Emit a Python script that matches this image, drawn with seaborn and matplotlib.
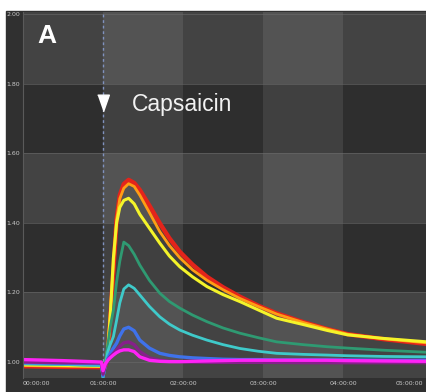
import numpy as np
import pandas as pd
import seaborn as sns
import matplotlib.pyplot as plt
from matplotlib.patches import Rectangle

# time in minutes, shared by all traces
time_min = [0, 0.5, 0.98, 1.0, 1.03, 1.06, 1.09, 1.13, 1.17, 1.21, 1.26, 1.32, 1.39, 1.46,
            1.58, 1.71, 1.83, 1.96, 2.12, 2.30, 2.5, 2.71, 2.94, 3.17, 3.5, 3.8, 4.06, 4.5, 5.05]

red = [0.988, 0.986, 0.985, 0.975, 0.99, 1.02, 1.12, 1.265, 1.41, 1.48, 1.512, 1.524, 1.515,
       1.495, 1.45, 1.399, 1.356, 1.317, 1.28, 1.245, 1.215, 1.188, 1.162, 1.14, 1.115,
       1.095, 1.08, 1.066, 1.052]
orange = [0.99, 0.988, 0.987, 0.97, 0.99, 1.03, 1.14, 1.28, 1.41, 1.47, 1.50, 1.513, 1.505,
          1.48, 1.43, 1.375, 1.335, 1.30, 1.265, 1.235, 1.208, 1.183, 1.16, 1.138, 1.114,
          1.095, 1.08, 1.067, 1.055]
yellow = [0.992, 0.99, 0.988, 0.97, 0.99, 1.04, 1.13, 1.30, 1.40, 1.445, 1.465, 1.471, 1.455,
          1.425, 1.385, 1.342, 1.305, 1.274, 1.245, 1.217, 1.194, 1.174, 1.15, 1.126, 1.108,
          1.091, 1.078, 1.068, 1.058]
green = [0.995, 0.993, 0.99, 0.955, 1.0, 1.05, 1.10, 1.15, 1.23, 1.29, 1.345, 1.335, 1.31,
         1.279, 1.235, 1.198, 1.174, 1.155, 1.135, 1.116, 1.098, 1.083, 1.07, 1.058, 1.05,
         1.044, 1.04, 1.034, 1.028]
cyan = [0.995, 0.993, 0.99, 0.955, 0.99, 1.03, 1.05, 1.073, 1.12, 1.17, 1.21, 1.222, 1.212,
        1.193, 1.16, 1.13, 1.109, 1.092, 1.077, 1.063, 1.05, 1.039, 1.031, 1.025, 1.022,
        1.02, 1.018, 1.016, 1.015]
blue = [0.998, 0.996, 0.995, 0.96, 0.99, 1.01, 1.025, 1.04, 1.054, 1.075, 1.095, 1.10, 1.09,
        1.063, 1.04, 1.025, 1.019, 1.015, 1.012, 1.01, 1.008, 1.007, 1.007, 1.006, 1.006,
        1.006, 1.006, 1.005, 1.005]
purple = [1.0, 0.998, 0.997, 0.965, 0.99, 1.005, 1.015, 1.025, 1.035, 1.045, 1.055, 1.058,
          1.05, 1.03, 1.012, 1.005, 1.002, 1.001, 1.0, 0.999, 0.999, 0.999, 0.999, 0.999,
          0.998, 0.998, 0.998, 0.998, 0.998]
magenta = [1.007, 1.004, 1.0, 0.975, 0.995, 1.005, 1.012, 1.02, 1.027, 1.032, 1.035, 1.035,
           1.03, 1.015, 1.005, 1.002, 1.001, 1.001, 1.002, 1.003, 1.004, 1.005, 1.005, 1.005,
           1.005, 1.005, 1.004, 1.003, 1.002]

series_names = ['red', 'orange', 'yellow', 'green', 'cyan', 'blue', 'purple', 'magenta']
series_values = [red, orange, yellow, green, cyan, blue, purple, magenta]
colors = {'red': '#e3241b', 'orange': '#ff9d14', 'yellow': '#f4f42a', 'green': '#2f9a72',
          'cyan': '#3fcaca', 'blue': '#3f72ea', 'purple': '#86208a', 'magenta': '#ff22f6'}
widths = {'red': 3.2, 'orange': 2.0, 'yellow': 2.2, 'green': 2.0,
          'cyan': 2.0, 'blue': 2.4, 'purple': 2.4, 'magenta': 2.4}

y_ticks = [1.0, 1.2, 1.4, 1.6, 1.8, 2.0]
y_labels = ['1.00', '1.20', '1.40', '1.60', '1.80', '2.00']
x_ticks = [0, 1, 2, 3, 4, 5]
x_labels = ['00:00:00', '01:00:00', '02:00:00', '03:00:00', '04:00:00', '05:00:00']

df = pd.DataFrame({
    't': np.tile(time_min, len(series_names)),
    'v': np.concatenate(series_values),
    'series': np.repeat(series_names, len(time_min)),
})

fig = plt.figure(figsize=(4.27, 3.92), dpi=100, facecolor='white')
# dark instrument panel behind the plot
fig.patches.append(Rectangle((6 / 427, 0), 1 - 6 / 427, 381 / 392,
                             transform=fig.transFigure, color='#303030', zorder=-10))
ax = fig.add_axes([23 / 427, 14 / 392, 404 / 427, 366 / 392])
ax.set_facecolor('#2e2e2e')

# checkerboard bands
for lo, hi in [(0.9, 1.2), (1.4, 1.6), (1.8, 2.1)]:
    ax.axhspan(lo, hi, color='white', alpha=0.10, lw=0, zorder=0)
for lo, hi in [(1, 2), (3, 4)]:
    ax.axvspan(lo, hi, color='white', alpha=0.085, lw=0, zorder=0)
for y in y_ticks:
    ax.axhline(y, color='#6a6a6a', lw=0.7, alpha=0.6, zorder=0.5)

ax.axvline(1.0, color='#8092bf', lw=1.0, ls=(0, (2, 2)), zorder=1)

for name in series_names:
    sns.lineplot(data=df[df['series'] == name], x='t', y='v', color=colors[name],
                 lw=widths[name], ax=ax, legend=False, zorder=2,
                 solid_joinstyle='round', solid_capstyle='round')

ax.set_xlim(0, 5.05)
ax.set_ylim(0.954, 2.007)
ax.set_xticks(x_ticks)
ax.set_xticklabels(x_labels)
ax.set_yticks(y_ticks)
ax.set_yticklabels(y_labels)
ax.tick_params(length=0, labelsize=4.5, labelcolor='#c8c8c8', pad=2)
ax.get_xticklabels()[0].set_ha('left')
ax.get_xticklabels()[-1].set_ha('right')
ax.set_xlabel('')
ax.set_ylabel('')
for side in ['top', 'right', 'bottom']:
    ax.spines[side].set_visible(False)
ax.spines['left'].set_color('#5a5a5a')
ax.spines['left'].set_linewidth(0.8)

# stimulus marker
ax.plot(1.0, 1.745, marker=[(-0.7, 1), (0.7, 1), (0, -1)], color='white',
        ms=12, ls='none', zorder=3)
ax.text(1.36, 1.74, 'Capsaicin', color='#f2f2f2', fontsize=16.5,
        family='Liberation Sans', va='center', ha='left')
ax.text(0.175, 1.937, 'A', color='white', fontsize=19, fontweight='bold',
        family='Liberation Sans', va='center', ha='left')

fig.savefig('out.png', dpi=100, facecolor='white')
